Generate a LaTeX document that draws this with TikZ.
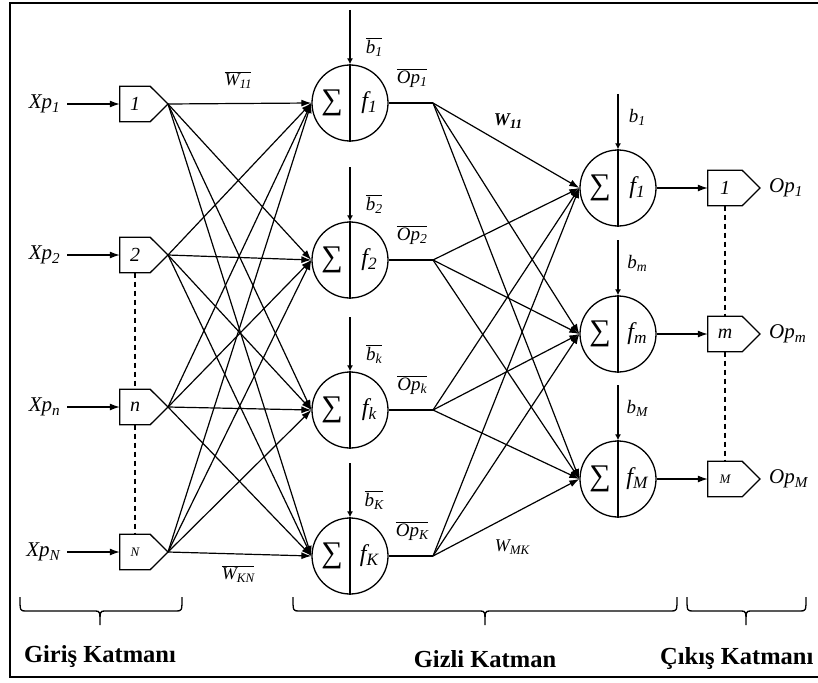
\documentclass[tikz,border=0pt]{standalone}
\usepackage{fontspec}
\setmainfont{Liberation Serif}
\usetikzlibrary{arrows.meta}
\newcommand\sbs[1]{\raisebox{-0.35ex}{\scalebox{0.72}{#1}}}
\newcommand\ovl[1]{$\overline{\mbox{#1}}$}
\begin{document}
\begin{tikzpicture}[x=1pt,y=-1pt,
  conn/.style={line width=1.2pt,-{Latex[length=10pt,width=7pt]}},
  biasarrow/.style={line width=1.5pt,-{Latex[length=6pt,width=6pt]}},
  neuron/.style={circle,draw,line width=1.3pt,minimum size=76pt,inner sep=0pt},
  divider/.style={line width=2.6pt},
  stub/.style={line width=2.8pt},
  inbox/.style={minimum width=30pt,minimum height=35pt,inner sep=0pt,font=\fontsize{20}{20}\selectfont\itshape},
  outbox/.style={minimum width=34pt,minimum height=35pt,inner sep=0pt,font=\fontsize{20}{20}\selectfont\itshape},
  boxline/.style={line width=1.3pt,line join=miter},
  biglab/.style={inner sep=0pt,font=\fontsize{21}{21}\selectfont\itshape},
  lab/.style={inner sep=0pt,font=\fontsize{19}{19}\selectfont\itshape},
  wlab/.style={inner sep=0pt,font=\fontsize{18}{18}\selectfont\itshape},
  sigma/.style={inner sep=0pt,font=\fontsize{30}{30}\selectfont},
  flab/.style={inner sep=0pt,font=\fontsize{24}{24}\selectfont\itshape},
  brace/.style={line width=1.3pt},
  dashline/.style={line width=1.2pt,dash pattern=on 5pt off 4pt},
  layer/.style={inner sep=0pt,font=\fontsize{24.5}{24.5}\selectfont\bfseries}]
\useasboundingbox (0,0) rectangle (818,682);
% frame
\draw[line width=2.8pt] (818,3) -- (10,3) -- (10,677) -- (818,677);
% input layer
\foreach \i/\y/\s/\t in {1/104/1/1, 2/255/2/2, 3/407/n/n, 4/552/N/{\fontsize{13}{13}\selectfont N}} {
  \node[inbox] (in\i) at (135,\y) {\t};
  \coordinate (ip\i) at (168,\y);
  \draw[boxline] (in\i.north west) -- (in\i.north east) -- (ip\i) -- (in\i.south east) -- (in\i.south west) -- cycle;
  \node[biglab,anchor=east] (x\i) at (60,\y) {Xp\sbs{\s}};
  \draw[conn] ([xshift=7pt]x\i.east) -- (in\i.west);
}
\draw[dashline] (in2.south) -- (in3.north);
\draw[dashline] (in3.south) -- (in4.north);
% hidden layer
\foreach \i/\y/\s in {1/103/1, 2/260/2, 3/410/k, 4/556/K} {
  \node[neuron] (h\i) at (350,\y) {};
  \draw[divider] (h\i.north) -- (h\i.south);
  \node[sigma] (hs\i) at (332,\y) {∑};
  \node[flab] (hf\i) at (369,\y) {f\sbs{\s}};
  \coordinate (hb\i) at (350,\y-93);
  \draw[biasarrow] (hb\i) -- (h\i.north);
  \node[lab] (hbl\i) at (374,\y-56) {\ovl{b\sbs{\s}}};
  \coordinate (ht\i) at (433,\y);
  \draw[stub] (h\i.east) -- (ht\i);
  \node[lab] (hol\i) at (412,\y-25) {\ovl{Op\sbs{\s}}};
}
% output layer
\foreach \j/\y/\s/\t in {1/188/1/1, 2/334/m/m, 3/479/M/{\fontsize{13}{13}\selectfont M}} {
  \node[neuron] (o\j) at (618,\y) {};
  \draw[divider] (o\j.north) -- (o\j.south);
  \node[sigma] (os\j) at (600,\y) {∑};
  \node[flab] (of\j) at (637,\y) {f\sbs{\s}};
  \coordinate (ob\j) at (618,\y-94);
  \draw[biasarrow] (ob\j) -- (o\j.north);
  \node[lab] (obl\j) at (637,\y-71) {b\sbs{\s}};
  \node[outbox] (ox\j) at (725,\y) {\t};
  \coordinate (op\j) at (760,\y);
  \draw[boxline] (ox\j.north west) -- (ox\j.north east) -- (op\j) -- (ox\j.south east) -- (ox\j.south west) -- cycle;
  \draw[conn] (o\j.east) -- (ox\j.west);
  \node[biglab,anchor=west] (oy\j) at (769,\y) {Op\sbs{\s}};
}
\draw[dashline] (ox1.south) -- (ox2.north);
\draw[dashline] (ox2.south) -- (ox3.north);
% connections
\foreach \i in {1,...,4} {
  \foreach \j in {1,...,4} {
    \draw[conn] (ip\i) -- (h\j.west);
  }
}
\foreach \i in {1,...,4} {
  \foreach \j in {1,...,3} {
    \draw[conn] (ht\i) -- (o\j.west);
  }
}
% weight labels
\node[wlab] (w11) at (238,80) {\ovl{W\sbs{11}}};
\node[wlab] (wkn) at (238,574) {\ovl{W\sbs{KN}}};
\node[wlab] (v11) at (508,121) {\bfseries W\sbs{11}};
\node[wlab] (vmk) at (512,547) {W\sbs{MK}};
% braces
\foreach \a/\c/\b in {20/100/182, 293/485/677, 687/746/806} {
  \draw[brace] (\a,597) .. controls (\a,611) .. (\a+6,611) -- (\c-5,611) .. controls (\c,611) .. (\c,625) .. controls (\c,611) .. (\c+5,611) -- (\b-6,611) .. controls (\b,611) .. (\b,597);
}
\node[layer] (l1) at (100,657) {Giriş Katmanı};
\node[layer] (l2) at (485,659) {Gizli Katman};
\node[layer,anchor=west] (l3) at (660,659) {Çıkış Katmanı};
\end{tikzpicture}
\end{document}
